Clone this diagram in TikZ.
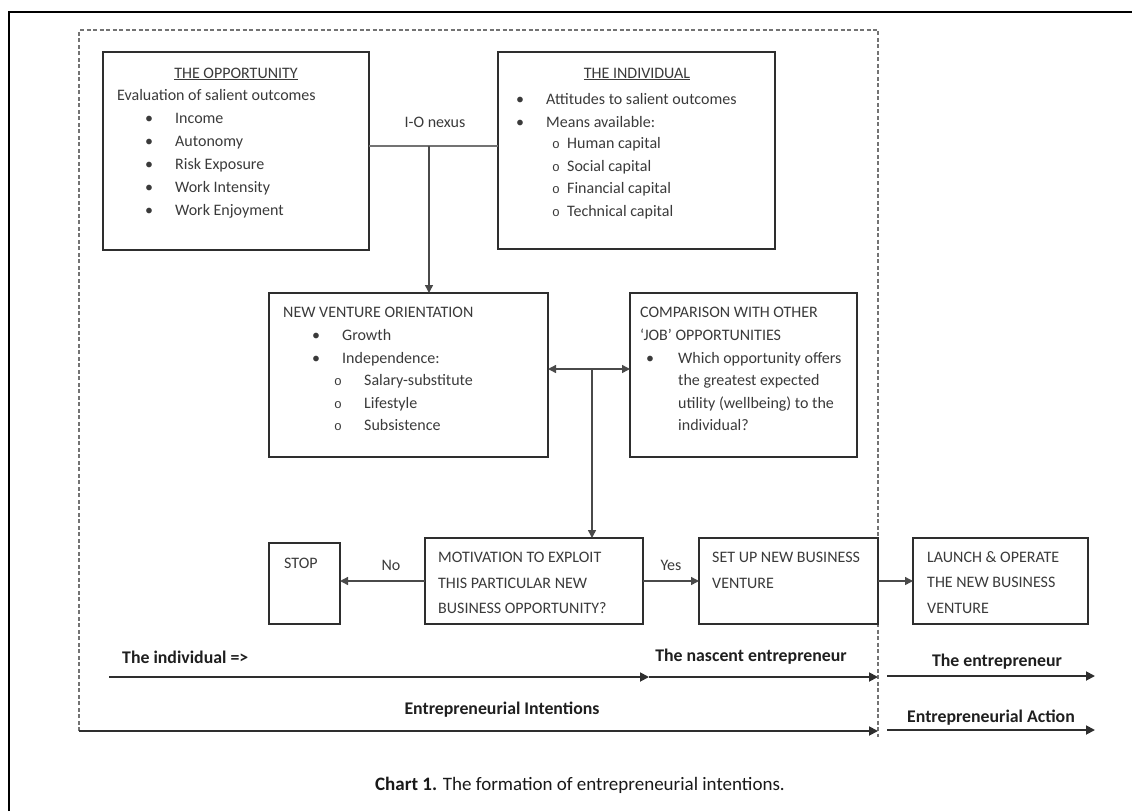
\documentclass[tikz,border=0pt]{standalone}
\usepackage{fontspec}
\setmainfont{Carlito}
\newfontfamily\monofnt{Liberation Mono}
\usetikzlibrary{arrows.meta}
\definecolor{ink}{HTML}{3A3A3A}
\definecolor{edge}{HTML}{2E2E2E}
\definecolor{wire}{HTML}{4A4A4A}
\begin{document}
\begin{tikzpicture}[x=1pt,y=-1pt,
  box/.style={draw=edge,line width=1.4pt,inner sep=0pt,outer sep=0pt,anchor=north west},
  txt/.style={anchor=base west,inner sep=0pt,text=ink,font=\fontsize{16}{19}\selectfont},
  ctxt/.style={anchor=base,inner sep=0pt,text=ink,font=\fontsize{16}{19}\selectfont},
  sub/.style={anchor=base,inner sep=0pt,text=ink,font=\monofnt\fontsize{13}{13}\selectfont},
  lbl/.style={anchor=base,inner sep=0pt,text=black!88,font=\bfseries\fontsize{17.8}{20}\selectfont},
  conn/.style={draw=wire,line width=1.4pt},
  tip/.style={-{Triangle[length=8pt,width=8pt]}},
  bothtips/.style={{Triangle[length=8pt,width=8pt]}-{Triangle[length=8pt,width=8pt]}},
  track/.style={draw=edge,line width=1.8pt,-{Triangle[length=9pt,width=9pt]}},
  zone/.style={draw=black!55,line width=1.2pt,dash pattern=on 4pt off 2.5pt}
]
\useasboundingbox (0,0) rectangle (1132,811);

% page frame (left and top edges)
\coordinate (fbl) at (9,811);
\coordinate (ftl) at (9,12);
\coordinate (ftr) at (1132,12);
\draw[line width=2.6pt] (fbl) -- (ftl) -- (ftr);

% dashed zone of entrepreneurial intentions
\coordinate (zbl) at (79,731);
\coordinate (ztl) at (79,30);
\coordinate (ztr) at (878,30);
\coordinate (zbr) at (878,737);
\draw[zone] (zbl) -- (ztl) -- (ztr) -- (zbr);

% ---------- the opportunity ----------
\node[box,minimum width=266pt,minimum height=198pt] (opp) at (103,52) {};
\node[ctxt] (oppT) at (236,78) {\underline{THE OPPORTUNITY}};
\node[txt] (oppE) at (117,100) {Evaluation of salient outcomes};
\node[ctxt] (ob1) at (149,123) {•};
\node[ctxt] (ob2) at (149,146) {•};
\node[ctxt] (ob3) at (149,169) {•};
\node[ctxt] (ob4) at (149,192) {•};
\node[ctxt] (ob5) at (149,215) {•};
\node[txt] (o1) at (175,123) {Income};
\node[txt] (o2) at (175,146) {Autonomy};
\node[txt] (o3) at (175,169) {Risk Exposure};
\node[txt] (o4) at (175,192) {Work Intensity};
\node[txt] (o5) at (175,215) {Work Enjoyment};

% ---------- the individual ----------
\node[box,minimum width=277pt,minimum height=197pt] (ind) at (498,52) {};
\node[ctxt] (indT) at (637,78) {\underline{THE INDIVIDUAL}};
\node[ctxt] (ib1) at (520,104) {•};
\node[ctxt] (ib2) at (520,127) {•};
\node[txt] (i1) at (546,104) {Attitudes to salient outcomes};
\node[txt] (i2) at (546,127) {Means available:};
\node[sub] (is1) at (556,148) {o};
\node[sub] (is2) at (556,171) {o};
\node[sub] (is3) at (556,193) {o};
\node[sub] (is4) at (556,216) {o};
\node[txt] (i3) at (567,148) {Human capital};
\node[txt] (i4) at (567,171) {Social capital};
\node[txt] (i5) at (567,193) {Financial capital};
\node[txt] (i6) at (567,216) {Technical capital};

% ---------- new venture orientation ----------
\node[box,minimum width=279pt,minimum height=164pt] (nvo) at (269,293) {};
\node[txt] (nvoT) at (283,317) {NEW VENTURE ORIENTATION};
\node[ctxt] (nb1) at (316,340) {•};
\node[ctxt] (nb2) at (316,363) {•};
\node[txt] (n1) at (342,340) {Growth};
\node[txt] (n2) at (342,363) {Independence:};
\node[sub] (ns1) at (338,385) {o};
\node[sub] (ns2) at (338,408) {o};
\node[sub] (ns3) at (338,430) {o};
\node[txt] (n3) at (364,385) {Salary-substitute};
\node[txt] (n4) at (364,408) {Lifestyle};
\node[txt] (n5) at (364,430) {Subsistence};

% ---------- comparison with other job opportunities ----------
\node[box,minimum width=227pt,minimum height=164pt] (cmp) at (630,293) {};
\node[txt] (cmpT1) at (640,317) {COMPARISON WITH OTHER};
\node[txt] (cmpT2) at (640,340) {‘JOB’ OPPORTUNITIES};
\node[ctxt] (cb1) at (650,363) {•};
\node[txt] (c1) at (678,363) {Which opportunity offers};
\node[txt] (c2) at (678,385) {the greatest expected};
\node[txt] (c3) at (678,408) {utility (wellbeing) to the};
\node[txt] (c4) at (678,430) {individual?};

% ---------- decision row ----------
\node[box,minimum width=71pt,minimum height=81pt] (stop) at (269,543) {};
\node[txt] (stopT) at (284,568) {STOP};
\node[box,minimum width=218pt,minimum height=86pt] (mot) at (425,538) {};
\node[txt] (m1) at (438,562) {MOTIVATION TO EXPLOIT};
\node[txt] (m2) at (438,588) {THIS PARTICULAR NEW};
\node[txt] (m3) at (438,613) {BUSINESS OPPORTUNITY?};
\node[box,minimum width=179pt,minimum height=86pt] (setup) at (699,538) {};
\node[txt] (s1) at (712,562) {SET UP NEW BUSINESS};
\node[txt] (s2) at (712,588) {VENTURE};
\node[box,minimum width=175pt,minimum height=86pt] (launch) at (913,538) {};
\node[txt] (l1) at (927,562) {LAUNCH \& OPERATE};
\node[txt] (l2) at (927,587) {THE NEW BUSINESS};
\node[txt] (l3) at (927,613) {VENTURE};

% ---------- connectors ----------
\node[ctxt] (nexus) at (435,127) {I-O nexus};
\coordinate (nexusJ) at (429,146);
\draw[conn,draw=black!55,line width=1.2pt] (opp.east |- nexusJ) -- (ind.west |- nexusJ);
\draw[conn,tip] (nexusJ) -- (nexusJ |- nvo.north);

\coordinate (hub) at (592,369);
\draw[conn,bothtips] (nvo.east |- hub) -- (cmp.west |- hub);
\draw[conn,tip] (hub) -- (hub |- mot.north);

\draw[conn,tip] (mot.west) -- (mot.west -| stop.east);
\node[ctxt] (no) at (391,570) {No};
\draw[conn,tip] (mot.east) -- (mot.east -| setup.west);
\node[ctxt] (yes) at (671,570) {Yes};
\draw[conn,tip] (setup.east) -- (launch.west);

% ---------- stage tracks ----------
\node[lbl,anchor=base west] (who1) at (122,663) {The individual =>};
\node[lbl] (who2) at (751,661) {The nascent entrepreneur};
\node[lbl] (who3) at (997,666) {The entrepreneur};
\coordinate (t1a) at (109,677);
\coordinate (t1b) at (649,677);
\coordinate (t1c) at (878,677);
\coordinate (t1d) at (887,676);
\coordinate (t1e) at (1095,676);
\draw[track] (t1a) -- (t1b);
\draw[track] (t1b) -- (t1c);
\draw[track] (t1d) -- (t1e);

\node[lbl] (phase1) at (502,714) {Entrepreneurial Intentions};
\node[lbl] (phase2) at (991,722) {Entrepreneurial Action};
\coordinate (t2a) at (79,731);
\coordinate (t2b) at (878,731);
\coordinate (t2c) at (887,730);
\coordinate (t2d) at (1095,730);
\draw[track] (t2a) -- (t2b);
\draw[track] (t2c) -- (t2d);

% caption
\node[anchor=base,inner sep=0pt,text=black!90,font=\fontsize{19}{22}\selectfont] (cap) at (580,790)
  {\textbf{Chart 1.} The formation of entrepreneurial intentions.};
\end{tikzpicture}
\end{document}
